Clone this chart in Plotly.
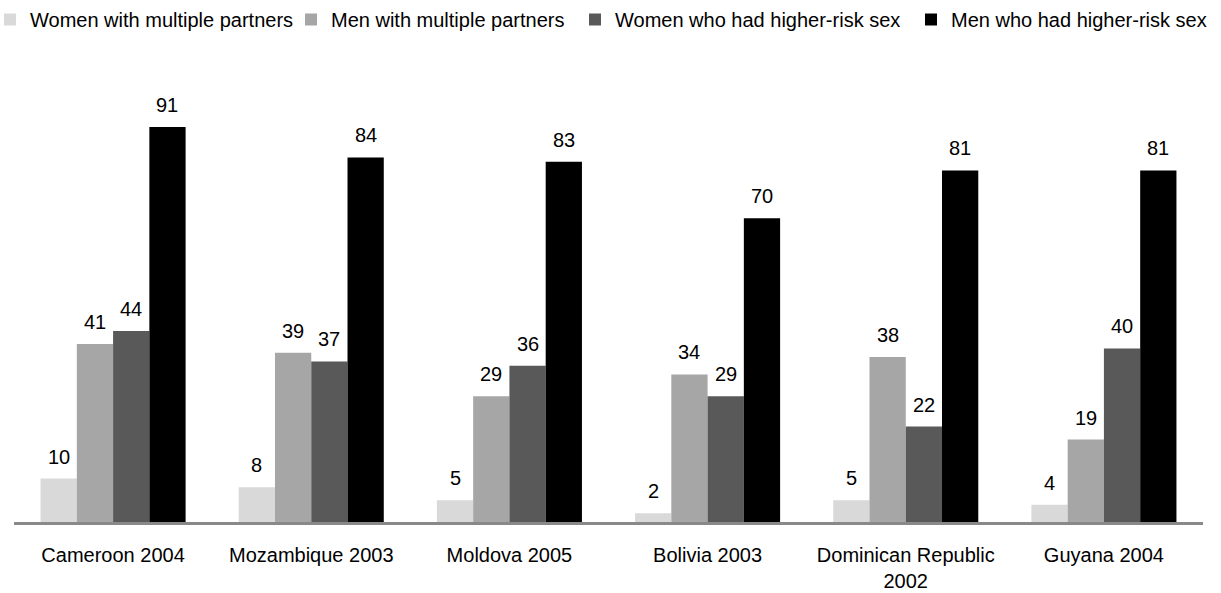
import plotly.graph_objects as go

categories = ["Cameroon 2004", "Mozambique 2003", "Moldova 2005", "Bolivia 2003",
              "Dominican Republic<br>2002", "Guyana 2004"]
series_names = ["Women with multiple partners", "Men with multiple partners",
                "Women who had higher-risk sex", "Men who had higher-risk sex"]
women_multiple = [10, 8, 5, 2, 5, 4]
men_multiple = [41, 39, 29, 34, 38, 19]
women_risk = [44, 37, 36, 29, 22, 40]
men_risk = [91, 84, 83, 70, 81, 81]
series_values = [women_multiple, men_multiple, women_risk, men_risk]
colors = ["#d9d9d9", "#a6a6a6", "#595959", "#000000"]

FONT = "Liberation Sans, Arial, sans-serif"
bargap = 0.268
W, H = 1221, 593
ML, MR, MT, MB = 14, 18, 88, 71

# legend text start positions (px from page left)
legend_text_x = [30, 331, 615, 951]

fig = go.Figure()
legend_ids = ["legend", "legend2", "legend3", "legend4"]
for name, vals, col, lid in zip(series_names, series_values, colors, legend_ids):
    fig.add_trace(go.Bar(x=categories, y=vals, name=name, legend=lid,
                         marker=dict(color=col, line=dict(width=0))))

n = len(series_values)
w = (1 - bargap) / n
annotations = []
for j, vals in enumerate(series_values):
    for i, v in enumerate(vals):
        annotations.append(dict(x=i + (j - (n - 1) / 2) * w, y=v, xref="x", yref="y",
                                text=str(v), showarrow=False, yanchor="bottom",
                                yshift=9, font=dict(size=20, color="#000000", family=FONT)))

legend_layouts = {}
plot_w = W - ML - MR
for lid, tx in zip(legend_ids, legend_text_x):
    left_px = tx - 40
    legend_layouts[lid] = dict(
        orientation="h", xref="paper", yref="container",
        x=(left_px - ML) / plot_w, y=1.0, xanchor="left", yanchor="top",
        font=dict(size=20, family=FONT, color="#000000"), itemwidth=30,
        bgcolor="rgba(0,0,0,0)")

fig.update_layout(
    width=W, height=H,
    margin=dict(l=ML, r=MR, t=MT, b=MB, autoexpand=False),
    paper_bgcolor="white", plot_bgcolor="white",
    barmode="group", bargap=bargap, bargroupgap=0,
    font=dict(family=FONT, size=20, color="#000000"),
    showlegend=True,
    annotations=annotations,
    xaxis=dict(showgrid=False, showline=True, linecolor="#898989", linewidth=3,
               ticks="", tickfont=dict(size=20, family=FONT), ticklabelstandoff=13,
               automargin=False, range=[-0.5, 5.5]),
    yaxis=dict(range=[0, 100], visible=False, showgrid=False, zeroline=False,
               automargin=False),
    **legend_layouts,
)

fig.write_html("out.html")
